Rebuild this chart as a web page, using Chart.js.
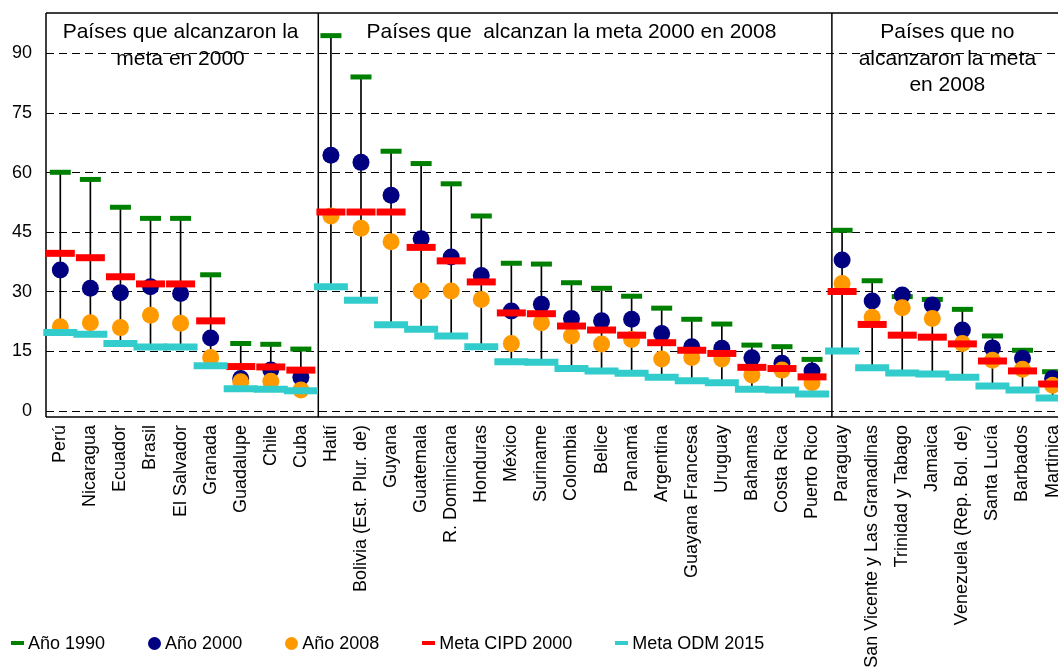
<!DOCTYPE html>
<html>
<head>
<meta charset="utf-8">
<script src="https://cdn.jsdelivr.net/npm/chart.js@4.4.1/dist/chart.umd.min.js"></script>
<style>
  html, body { margin: 0; padding: 0; background: #fff; overflow: hidden; }
  #wrap { position: relative; width: 1058px; height: 671px; }
  #c { display: block; }
  #legend { position: absolute; left: 11px; top: 632px; height: 22px; display: flex; align-items: center;
            font: 18px "Liberation Sans", Arial, sans-serif; color: #000; white-space: nowrap; }
  .item { display: flex; align-items: center; margin-right: 43px; }
  .mk { margin-right: 4px; flex: none; }
</style>
</head>
<body>
<div id="wrap">
  <canvas id="c" width="1058" height="671"></canvas>
  <div id="legend"></div>
</div>
<script>
// ---------- DATA ----------
const countries = [
  "Perú", "Nicaragua", "Ecuador", "Brasil", "El Salvador", "Granada", "Guadalupe", "Chile", "Cuba",
  "Haití", "Bolivia (Est. Plur. de)", "Guyana", "Guatemala", "R. Dominicana", "Honduras", "México",
  "Suriname", "Colombia", "Belice", "Panamá", "Argentina", "Guayana Francesa", "Uruguay", "Bahamas",
  "Costa Rica", "Puerto Rico",
  "Paraguay", "San Vicente y Las Granadinas", "Trinidad y Tabago", "Jamaica", "Venezuela (Rep. Bol. de)",
  "Santa Lucía", "Barbados", "Martinica"
];
const year1990 = [
  60.1, 58.3, 51.3, 48.5, 48.5, 34.3, 17.0, 16.8, 15.6,
  94.5, 84.1, 65.4, 62.3, 57.2, 49.1, 37.2, 37.0, 32.3, 30.9, 28.9, 25.9, 23.1, 21.9, 16.6, 16.2, 13.0,
  45.5, 32.8, 28.8, 28.1, 25.6, 18.9, 15.3, 9.9
];
const year2000 = [
  35.5, 30.9, 29.8, 31.3, 29.6, 18.4, 8.2, 10.3, 8.5,
  64.4, 62.6, 54.3, 43.4, 38.8, 34.1, 25.2, 26.9, 23.3, 22.7, 23.1, 19.5, 16.2, 15.8, 13.4, 12.0, 10.1,
  38.0, 27.7, 29.2, 26.7, 20.4, 15.9, 13.3, 8.2
];
const year2008 = [
  21.2, 22.2, 21.0, 24.1, 22.1, 13.5, 7.4, 7.5, 5.3,
  49.1, 46.0, 42.6, 30.2, 30.2, 28.1, 17.0, 22.2, 18.9, 16.9, 18.0, 13.1, 13.5, 13.1, 9.1, 10.3, 7.1,
  32.1, 23.6, 26.0, 23.3, 17.0, 12.8, 10.5, 6.5
];
const metaCIPD2000 = [
  39.7, 38.6, 33.8, 32.0, 32.0, 22.7, 11.2, 11.1, 10.3,
  50.1, 50.1, 50.1, 41.2, 37.8, 32.5, 24.7, 24.5, 21.4, 20.4, 19.1, 17.2, 15.3, 14.5, 11.0, 10.7, 8.6,
  30.1, 21.8, 19.1, 18.6, 16.9, 12.6, 10.1, 6.8
];
const metaODM2015 = [
  19.8, 19.3, 17.0, 16.1, 16.1, 11.4, 5.6, 5.5, 5.1,
  31.3, 27.9, 21.7, 20.6, 18.9, 16.2, 12.4, 12.3, 10.7, 10.1, 9.5, 8.5, 7.6, 7.1, 5.5, 5.3, 4.3,
  15.1, 10.9, 9.6, 9.3, 8.5, 6.3, 5.3, 3.3
];
const yTicks = [0, 15, 30, 45, 60, 75, 90];
const groupTitles = [
  { from: 0,  to: 8,  lines: ["Países que alcanzaron la", "meta en 2000"] },
  { from: 9,  to: 25, lines: ["Países que  alcanzan la meta 2000 en 2008"] },
  { from: 26, to: 33, lines: ["Países que no", "alcanzaron la meta", "en 2008"] }
];
const seriesNames = ["Año 1990", "Año 2000", "Año 2008", "Meta CIPD 2000", "Meta ODM 2015"];

// ---------- LAYOUT / STYLE ----------
const FONT = '"Liberation Sans", Arial, sans-serif';
const dividerPositions = [8.58, 25.66];   // in category-index units

const pts = arr => arr.map((v, i) => ({ x: i, y: v }));
const allSeries = [year1990, year2000, year2008, metaCIPD2000, metaODM2015];
const highLow = countries.map((c, i) => {
  const vals = allSeries.map(s => s[i]);
  return { x: i, y: [Math.min(...vals), Math.max(...vals)] };
});

const decor = {
  id: 'decor',
  beforeDatasetsDraw(chart) {
    const { ctx, chartArea: a, scales: { x } } = chart;
    ctx.save();
    ctx.strokeStyle = '#000';
    ctx.lineWidth = 1.5;
    ctx.beginPath();
    ctx.moveTo(a.left, a.top); ctx.lineTo(a.right + 5, a.top);
    ctx.moveTo(a.left, a.top); ctx.lineTo(a.left, a.bottom);
    ctx.moveTo(a.left, a.bottom); ctx.lineTo(a.right + 5, a.bottom);
    dividerPositions.forEach(d => {
      const px = x.getPixelForValue(d);
      ctx.moveTo(px, a.top); ctx.lineTo(px, a.bottom);
    });
    ctx.stroke();
    ctx.fillStyle = '#000';
    ctx.font = '21px ' + FONT;
    ctx.textAlign = 'center';
    ctx.textBaseline = 'middle';
    groupTitles.forEach(g => {
      const cx = x.getPixelForValue((g.from + g.to) / 2);
      g.lines.forEach((t, k) => ctx.fillText(t, cx, a.top + 19 + k * 26.8));
    });
    ctx.restore();
  }
};

const chart = new Chart(document.getElementById('c'), {
  type: 'scatter',
  data: {
    datasets: [
      { type: 'bar', label: 'high-low', data: highLow, backgroundColor: '#000', borderWidth: 0,
        barThickness: 1, order: 6 },
      { label: seriesNames[0], data: pts(year1990), pointStyle: 'line', pointRadius: 10.5,
        pointBorderColor: '#008000', pointBackgroundColor: '#008000', pointBorderWidth: 5, order: 5 },
      { label: seriesNames[1], data: pts(year2000), pointStyle: 'circle', pointRadius: 8.5,
        pointBackgroundColor: '#000080', pointBorderColor: '#000080', pointBorderWidth: 0, order: 4 },
      { label: seriesNames[2], data: pts(year2008), pointStyle: 'circle', pointRadius: 8.5,
        pointBackgroundColor: '#FF9900', pointBorderColor: '#FF9900', pointBorderWidth: 0, order: 3 },
      { label: seriesNames[3], data: pts(metaCIPD2000), pointStyle: 'line', pointRadius: 14.5,
        pointBorderColor: '#FF0000', pointBackgroundColor: '#FF0000', pointBorderWidth: 7, order: 2 },
      { label: seriesNames[4], data: pts(metaODM2015), pointStyle: 'line', pointRadius: 17,
        pointBorderColor: '#33CCCC', pointBackgroundColor: '#33CCCC', pointBorderWidth: 7, order: 1 }
    ]
  },
  options: {
    responsive: false,
    animation: false,
    devicePixelRatio: 1,
    clip: false,
    layout: { autoPadding: false, padding: { top: 13, left: 0, right: 0, bottom: 0 } },
    plugins: { legend: { display: false }, tooltip: { enabled: false } },
    scales: {
      x: {
        type: 'linear', min: -0.4756, max: 33.18, offset: false, bounds: 'data',
        afterBuildTicks: s => { s.ticks = countries.map((c, i) => ({ value: i })); },
        afterFit: s => { s.height = 254; s.paddingLeft = 0; s.paddingRight = 0; },
        grid: { display: false, drawTicks: false, offset: false },
        border: { display: false },
        ticks: { autoSkip: false, minRotation: 90, maxRotation: 90, padding: 8, color: '#000',
                 font: { family: FONT, size: 18 }, callback: v => countries[v] ?? '' }
      },
      y: {
        min: -1.5, max: 100.2, beginAtZero: false,
        afterBuildTicks: s => { s.ticks = yTicks.map(v => ({ value: v })); },
        afterFit: s => { s.width = 46; s.paddingTop = 0; s.paddingBottom = 0; },
        grid: { color: '#000', lineWidth: 1, drawTicks: false },
        border: { display: false, dash: [8, 5] },
        ticks: { padding: 14, color: '#000', font: { family: FONT, size: 18 } }
      }
    }
  },
  plugins: [decor]
});

// HTML legend built from the chart's datasets
const legendEl = document.getElementById('legend');
chart.data.datasets.slice(1).forEach(ds => {
  const item = document.createElement('div');
  item.className = 'item';
  const mk = document.createElement('span');
  mk.className = 'mk';
  if (ds.pointStyle === 'circle') {
    mk.style.cssText = `width:13px;height:13px;border-radius:50%;background:${ds.pointBackgroundColor};`;
  } else {
    mk.style.cssText = `width:13px;height:4px;background:${ds.pointBorderColor};`;
  }
  const tx = document.createElement('span');
  tx.textContent = ds.label;
  item.appendChild(mk); item.appendChild(tx);
  legendEl.appendChild(item);
});
</script>
</body>
</html>
